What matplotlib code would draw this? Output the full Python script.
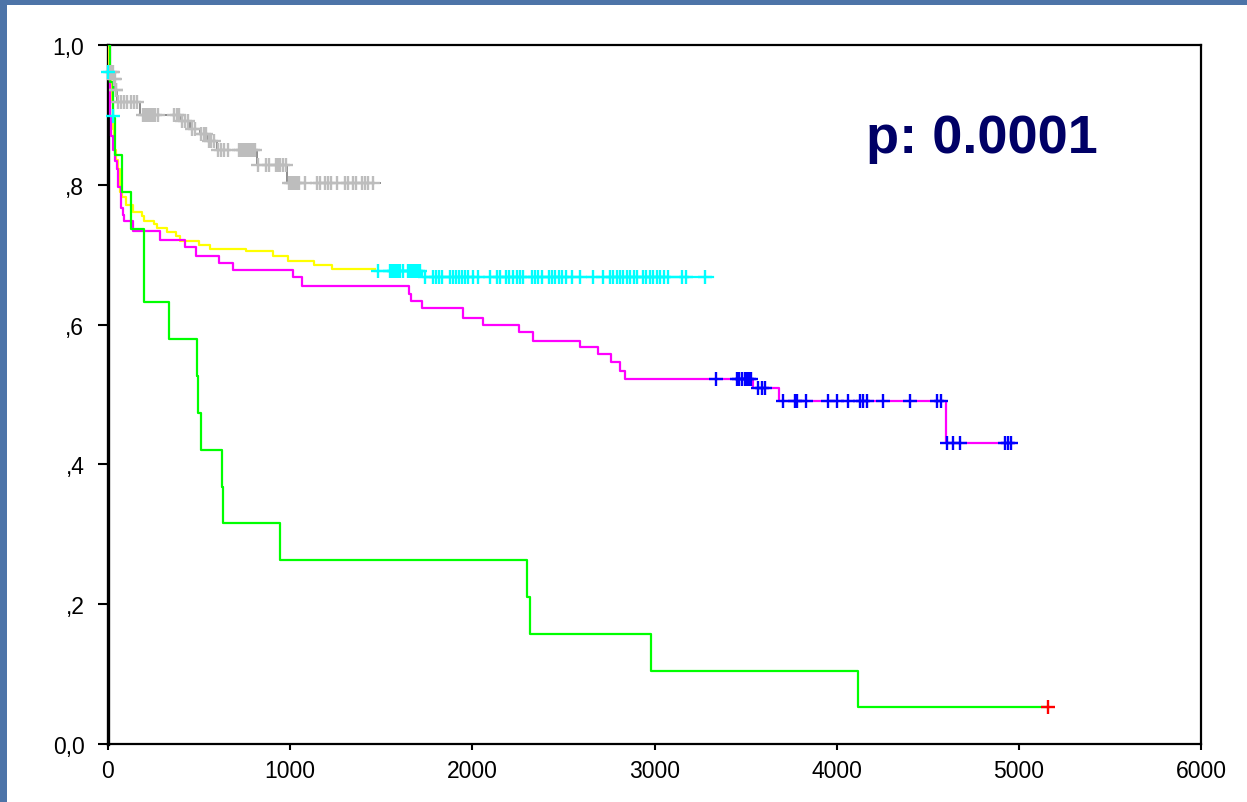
import matplotlib
matplotlib.use('Agg')
import matplotlib.pyplot as plt
import numpy as np
from matplotlib.patches import Rectangle

plt.rcParams['font.family'] = ['Liberation Sans', 'DejaVu Sans']

# ---- data (days, cumulative survival) ----
gray_t = [0, 3, 8, 30, 40, 50, 176, 395, 450, 505, 549, 598, 818, 982, 1493]
gray_s = [1.0, 0.985, 0.961, 0.951, 0.935, 0.918, 0.900, 0.891, 0.880, 0.873, 0.863, 0.850, 0.828, 0.8026, 0.8026]
gray_cens = [12, 20, 25, 32, 36, 42, 46, 55, 71, 88, 104, 126, 143, 159, 192, 203, 214, 225, 236, 247,
             258, 274, 362, 379, 390, 406, 423, 439, 461, 477, 510, 527, 538, 554, 565, 582, 604, 620,
             637, 659, 719, 730, 741, 752, 763, 774, 785, 796, 807, 823, 867, 884, 922, 933, 944, 960,
             975, 993, 1004, 1015, 1026, 1037, 1048, 1081, 1147, 1164, 1191, 1207, 1224, 1257, 1301,
             1317, 1345, 1361, 1394, 1411, 1427, 1454]

yellow_t = [0, 5, 15, 25, 35, 45, 55, 66, 79, 99, 135, 188, 199, 254, 267, 325, 373, 395, 499, 560,
            757, 904, 990, 1131, 1231, 1465]
yellow_s = [1.0, 0.96, 0.92, 0.88, 0.85, 0.835, 0.823, 0.79, 0.783, 0.771, 0.7615, 0.756, 0.7486, 0.744,
            0.7377, 0.733, 0.727, 0.720, 0.7143, 0.708, 0.705, 0.6986, 0.691, 0.6853, 0.6795, 0.6795]
# censored tail of the yellow group (drawn in cyan)
cyan_t = [1465, 1721, 3320]
cyan_s = [0.676, 0.668, 0.668]
cyan_cens = [1484, 1548, 1559, 1570, 1581, 1592, 1603, 1619, 1647, 1658, 1668, 1679, 1690, 1701, 1712,
             1740, 1784, 1800, 1817, 1833, 1877, 1894, 1910, 1926, 1943, 1959, 1976, 2003, 2031, 2097,
             2135, 2151, 2184, 2201, 2223, 2245, 2261, 2278, 2327, 2344, 2360, 2382, 2420, 2437, 2453,
             2475, 2492, 2514, 2547, 2591, 2662, 2717, 2755, 2772, 2794, 2810, 2827, 2849, 2865, 2887,
             2903, 2936, 2953, 2975, 2991, 3013, 3030, 3052, 3074, 3150, 3172, 3277]
cyan_early_t = [0, 27]
cyan_early_s = [0.961, 0.898]

magenta_t = [0, 11, 15, 25, 40, 50, 57, 70, 84, 90, 135, 285, 423, 483, 609, 684, 1017, 1067, 1652,
             1663, 1725, 1950, 2060, 2257, 2331, 2591, 2689, 2761, 2810, 2837, 3542, 3683, 4598, 4967]
magenta_s = [1.0, 0.898, 0.87, 0.85, 0.834, 0.823, 0.797, 0.7675, 0.7575, 0.7475, 0.734, 0.7215, 0.711,
             0.6986, 0.688, 0.678, 0.6676, 0.6548, 0.6438, 0.634, 0.6233, 0.61, 0.5994, 0.589, 0.577,
             0.5675, 0.558, 0.546, 0.534, 0.522, 0.509, 0.491, 0.4306, 0.4306]
blue_cens = [3337, 3452, 3463, 3480, 3496, 3507, 3518, 3529, 3568, 3589, 3606, 3705, 3771, 3782, 3831,
             3952, 4001, 4061, 4127, 4144, 4166, 4254, 4402, 4550, 4572, 4605, 4638, 4676, 4923, 4940, 4956]

green_t = [0, 10, 25, 38, 77, 126, 198, 335, 488, 494, 510, 626, 631, 944, 2300, 2316, 2980, 4116, 5159]
green_s = [1.0, 0.947, 0.895, 0.842, 0.789, 0.737, 0.632, 0.579, 0.526, 0.474, 0.421, 0.368, 0.316,
           0.263, 0.211, 0.158, 0.105, 0.0526, 0.0526]
red_cens = [5159]

yticks = [0, 0.2, 0.4, 0.6, 0.8, 1.0]
ytick_labels = ['0,0', ',2', ',4', ',6', ',8', '1,0']
xticks = [0, 1000, 2000, 3000, 4000, 5000, 6000]


def step_value(t, times, surv):
    idx = np.searchsorted(times, t, side='right') - 1
    return np.asarray(surv)[idx]


fig = plt.figure(figsize=(12.47, 8.03), dpi=100, facecolor='#4d74a8')
fig.add_artist(Rectangle((7 / 1247, 0), 1, 797 / 803, transform=fig.transFigure,
                         facecolor='white', edgecolor='none', zorder=-1))

ax = fig.add_axes([108 / 1247, 58 / 803, 1093 / 1247, 699 / 803])
ax.set_facecolor('white')

mk = dict(marker='+', linestyle='none', markersize=9.5, mew=1.7, clip_on=False, zorder=4)

ax.step(gray_t, gray_s, where='post', color='#8c8c8c', lw=1.4, zorder=3)
ax.plot(gray_cens, step_value(gray_cens, gray_t, gray_s), color='#bdbdbd', **mk)

ax.step(yellow_t, yellow_s, where='post', color='#ffff00', lw=1.6, zorder=3)
ax.step(cyan_t, cyan_s, where='post', color='#00ffff', lw=1.6, zorder=3)
ax.plot(cyan_cens, step_value(cyan_cens, cyan_t, cyan_s), color='#00ffff', **mk)
ax.plot(cyan_early_t, cyan_early_s, color='#00ffff', **mk)

ax.step(magenta_t, magenta_s, where='post', color='#ff00ff', lw=1.6, zorder=3)
ax.plot(blue_cens, step_value(blue_cens, magenta_t, magenta_s), color='#0000ff', **mk)

ax.step(green_t, green_s, where='post', color='#00ff00', lw=1.6, zorder=3)
ax.plot(red_cens, step_value(red_cens, green_t, green_s), color='#ff0000', **mk)

ax.set_xlim(0, 6000)
ax.set_ylim(0, 1.0)
ax.set_xticks(xticks)
ax.set_yticks(yticks)
ax.set_yticklabels(ytick_labels)

for side in ['top', 'right', 'bottom']:
    ax.spines[side].set_linewidth(1.6)
ax.spines['left'].set_linewidth(2.4)
ax.tick_params(axis='y', length=7, width=1.5, pad=10, labelsize=16.5)
ax.tick_params(axis='x', length=4, width=1.5, pad=7, labelsize=16.5)

fig.text(866 / 1247, 1 - 153 / 803, 'p: 0.0001', fontsize=39, fontweight='bold',
         color='#000066', ha='left', va='baseline')

fig.savefig('out.png', dpi=100, facecolor=fig.get_facecolor())
